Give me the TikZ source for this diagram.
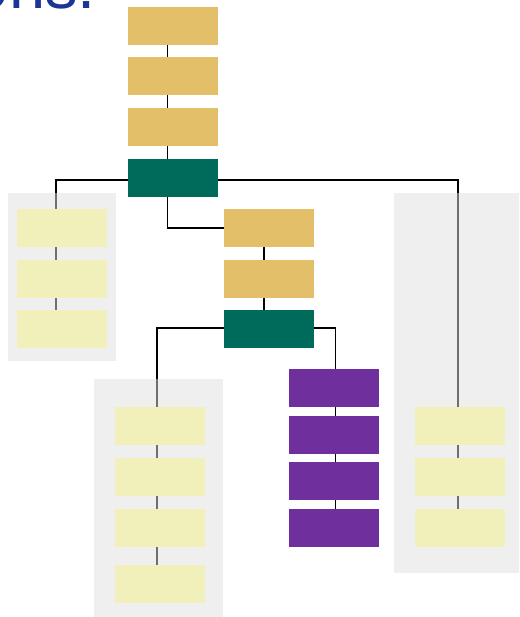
\documentclass[tikz,border=0pt]{standalone}
\usepackage{fontspec}
\setmainfont{Liberation Sans}
\pgfdeclarelayer{bg}
\pgfdeclarelayer{mid}
\pgfsetlayers{bg,mid,main}
\definecolor{tan}{HTML}{E4BF6A}
\definecolor{dgreen}{HTML}{006B5B}
\definecolor{purp}{HTML}{6F309D}
\definecolor{lyel}{HTML}{F1F0BA}
\definecolor{panelc}{HTML}{DFDFDF}
\definecolor{titleblue}{RGB}{28,54,150}
\tikzset{
  box/.style={rectangle, minimum width=90pt, minimum height=38pt, inner sep=0pt, draw=none},
  tanbox/.style={box, fill=tan},
  greenbox/.style={box, fill=dgreen},
  purpbox/.style={box, fill=purp},
  yelbox/.style={box, fill=lyel},
  panel/.style={fill=panelc, fill opacity=0.5, draw=none},
  conn/.style={draw=black, line width=1.8pt},
}
\begin{document}
\begin{tikzpicture}[x=1pt,y=-1pt]
\useasboundingbox (0,0) rectangle (519,617);
\clip (0,0) rectangle (519,617);
\node[anchor=base east, inner sep=0pt, text=titleblue, font=\fontsize{65}{70}\selectfont] (title) at (96,8.5) {ons.};
% top column
\node[tanbox] (t1) at (173,26) {};
\node[tanbox] (t2) at (173,76) {};
\node[tanbox] (t3) at (173,127) {};
\node[greenbox] (g1) at (173,178) {};
% left column
\node[yelbox] (l1) at (62,228) {};
\node[yelbox] (l2) at (62,279) {};
\node[yelbox] (l3) at (62,329) {};
% middle column
\node[tanbox] (m1) at (269,228) {};
\node[tanbox] (m2) at (269,279) {};
\node[greenbox] (g2) at (269,329) {};
% lower left column
\node[yelbox] (ll1) at (160,426) {};
\node[yelbox] (ll2) at (160,477) {};
\node[yelbox] (ll3) at (160,528) {};
\node[yelbox] (ll4) at (160,584) {};
% purple column
\node[purpbox] (p1) at (334,388) {};
\node[purpbox] (p2) at (334,435) {};
\node[purpbox] (p3) at (334,481) {};
\node[purpbox] (p4) at (334,528) {};
% right column
\node[yelbox] (r1) at (460,426) {};
\node[yelbox] (r2) at (460,477) {};
\node[yelbox] (r3) at (460,528) {};
\begin{pgfonlayer}{mid}
\fill[panel] (8,193) rectangle (116,361);
\fill[panel] (94,379) rectangle (223,617);
\fill[panel] (394,193) rectangle (519,573);
\end{pgfonlayer}
\begin{pgfonlayer}{bg}
\draw[conn] ([xshift=-5.5pt]t1.south) -- ([xshift=-5.5pt]t2.north);
\draw[conn] ([xshift=-5.5pt]t2.south) -- ([xshift=-5.5pt]t3.north);
\draw[conn] ([xshift=-5.5pt]t3.south) -- ([xshift=-5.5pt]g1.north);
\draw[conn] ([yshift=-2pt]g1.west) -| ([xshift=-6pt]l1.north);
\draw[conn] ([xshift=-6pt]l1.south) -- ([xshift=-6pt]l2.north);
\draw[conn] ([xshift=-6pt]l2.south) -- ([xshift=-6pt]l3.north);
\draw[conn] ([yshift=-2pt]g1.east) -| ([xshift=-2pt]r1.north);
\draw[conn] ([xshift=-2pt]r1.south) -- ([xshift=-2pt]r2.north);
\draw[conn] ([xshift=-2pt]r2.south) -- ([xshift=-2pt]r3.north);
\draw[conn] ([xshift=-5.5pt]g1.south) |- (m1.west);
\draw[conn] ([xshift=-5pt]m1.south) -- ([xshift=-5pt]m2.north);
\draw[conn] ([xshift=-5pt]m2.south) -- ([xshift=-5pt]g2.north);
\draw[conn] ([yshift=1.3pt]g2.west) -| ([xshift=-3pt]ll1.north);
\draw[conn] ([xshift=-3pt]ll1.south) -- ([xshift=-3pt]ll2.north);
\draw[conn] ([xshift=-3pt]ll2.south) -- ([xshift=-3pt]ll3.north);
\draw[conn] ([xshift=-3pt]ll3.south) -- ([xshift=-3pt]ll4.north);
\draw[conn] ([yshift=1.3pt]g2.east) -| ([xshift=1.5pt]p1.north);
\draw[conn] ([xshift=1.5pt]p1.south) -- ([xshift=1.5pt]p2.north);
\draw[conn] ([xshift=1.5pt]p2.south) -- ([xshift=1.5pt]p3.north);
\draw[conn] ([xshift=1.5pt]p3.south) -- ([xshift=1.5pt]p4.north);
\end{pgfonlayer}
\end{tikzpicture}
\end{document}
